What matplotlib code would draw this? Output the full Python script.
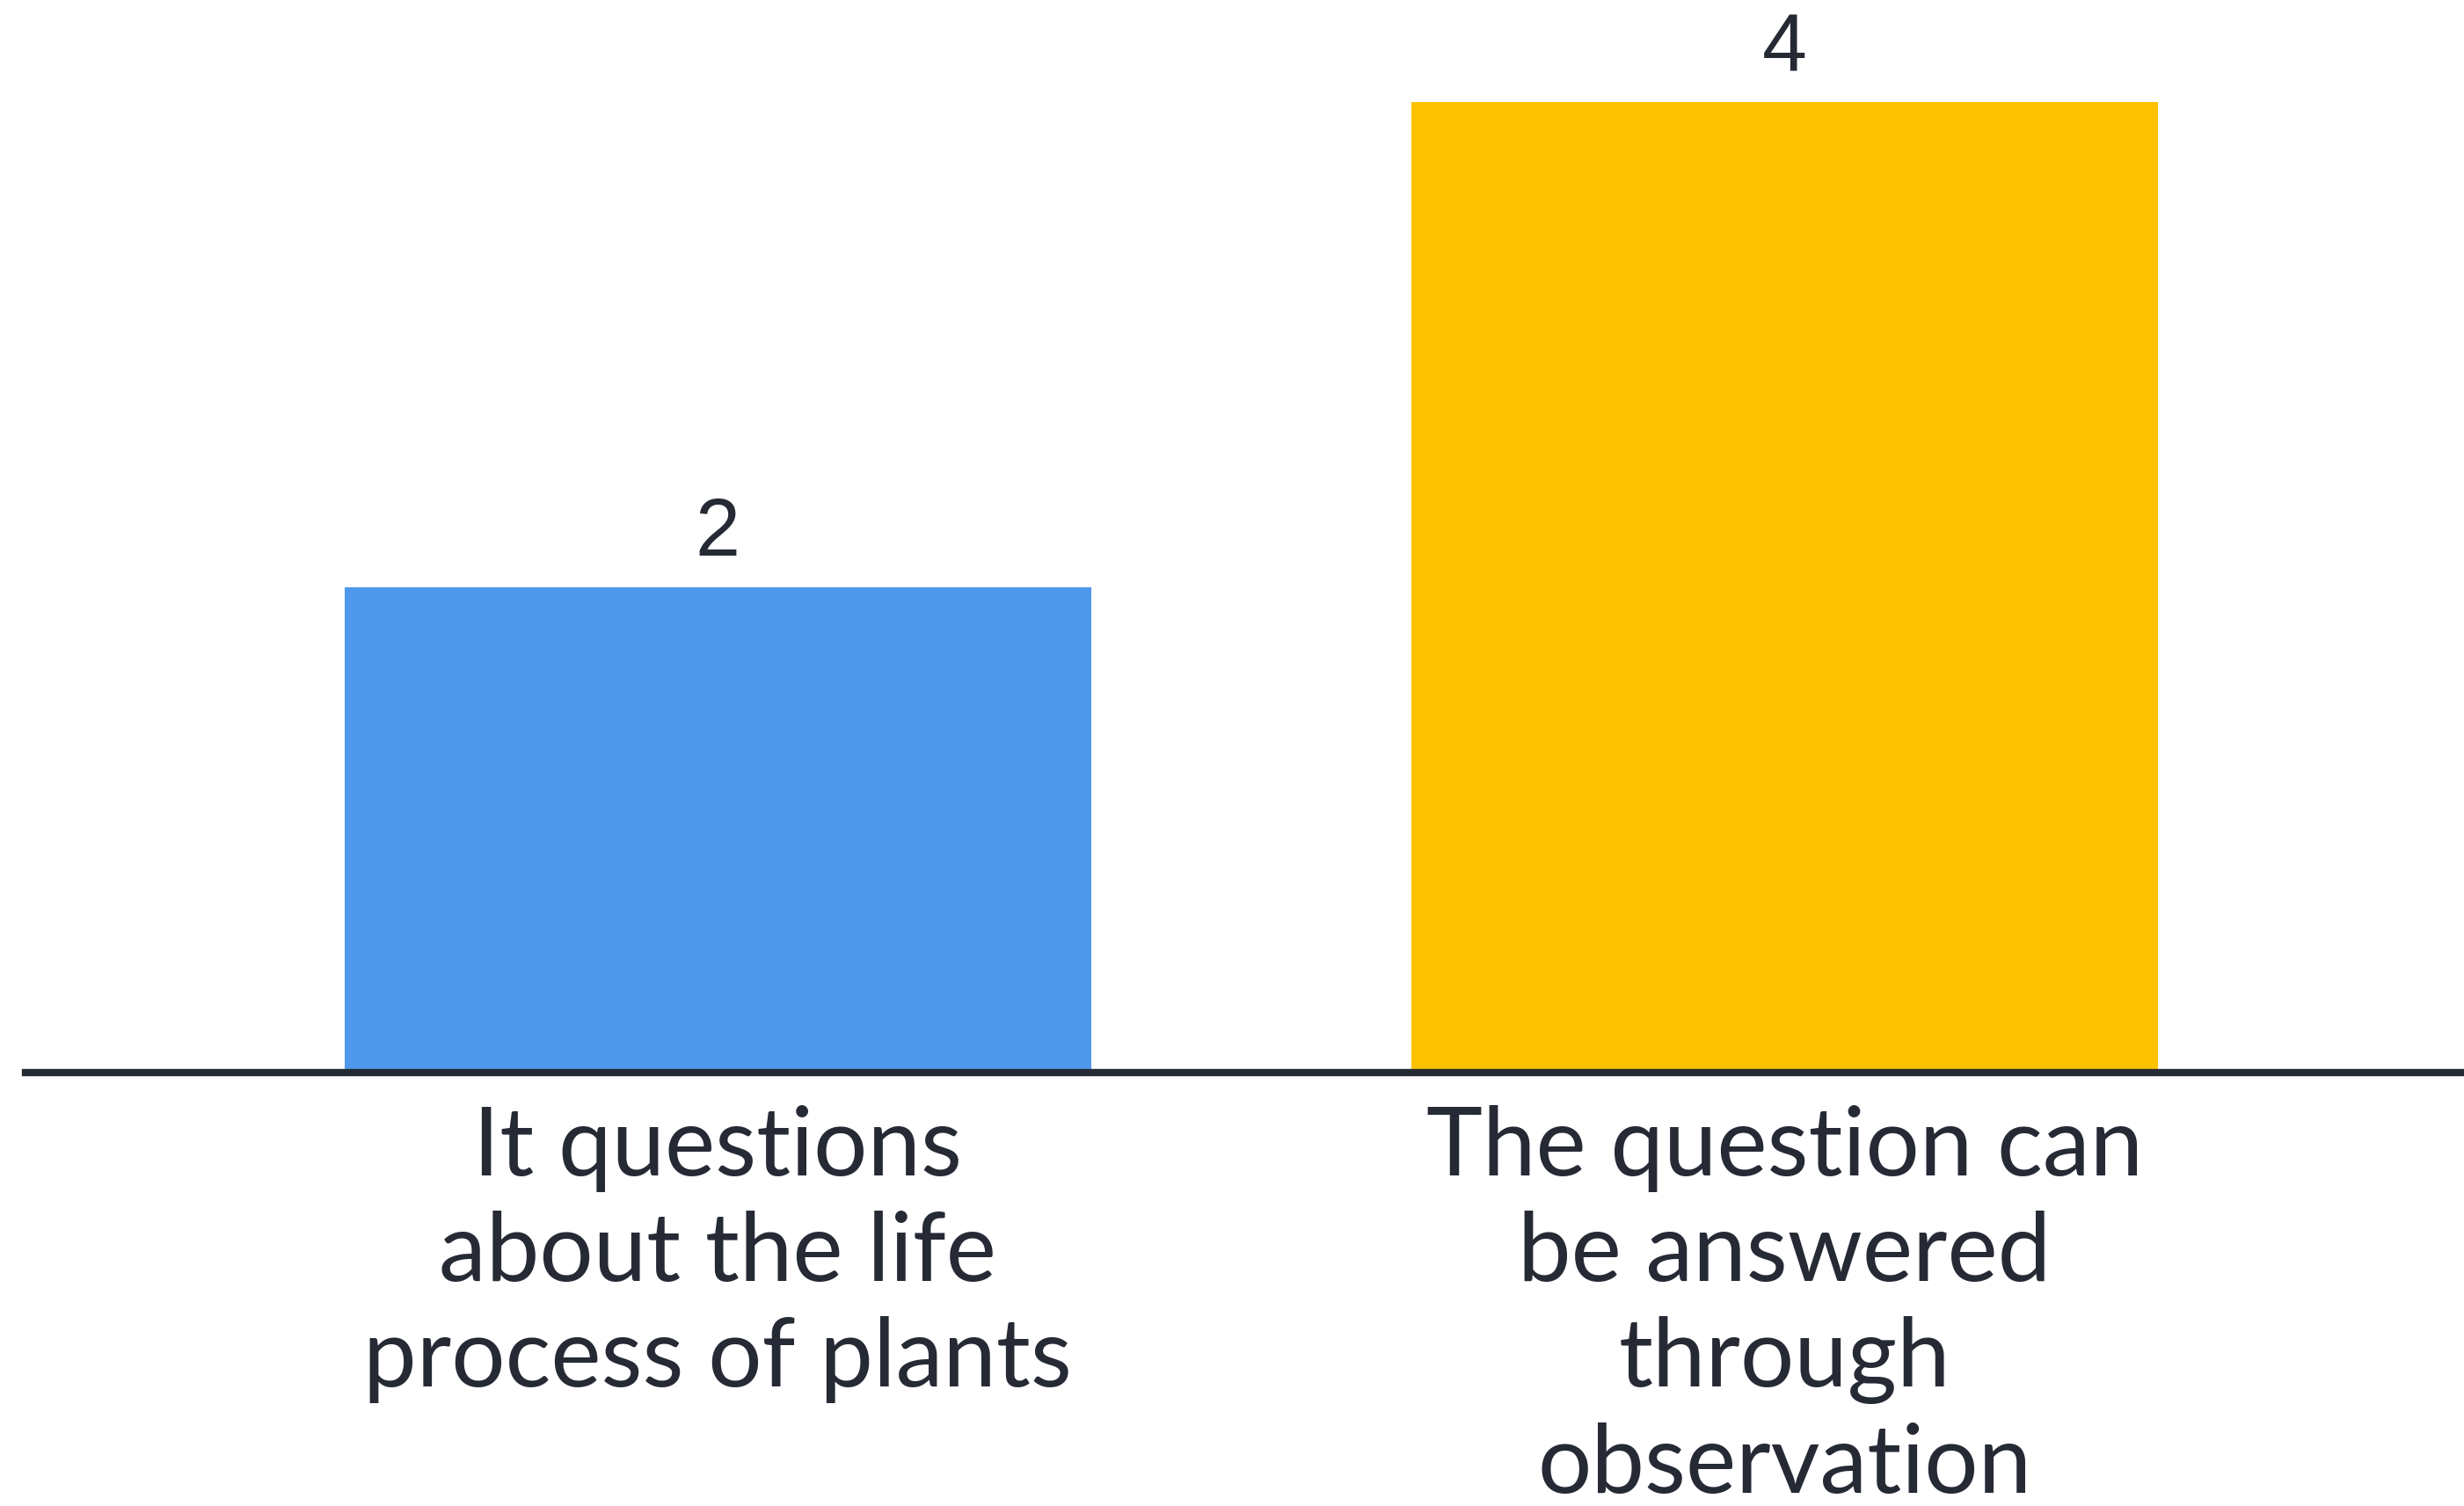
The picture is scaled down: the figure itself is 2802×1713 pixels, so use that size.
import matplotlib.pyplot as plt

# Chart data
categories = [
    "It questions\nabout the life\nprocess of plants",
    "The question can\nbe answered\nthrough\nobservation",
]
values = [2, 4]
colors = ["#4f98ec", "#fcc200"]

text_color = "#262a35"

fig = plt.figure(figsize=(28.02, 17.13), dpi=100)
ax = fig.add_axes([29 / 2802, 493 / 1713, 1 - 29 / 2802, 1220 / 1713])

x = list(range(len(values)))
bars = ax.bar(x, values, width=0.7, color=colors)

# Value labels above the bars
ax.bar_label(bars, labels=[str(v) for v in values], padding=12,
             fontsize=66, color=text_color, family="Liberation Sans")

ax.set_xlim(-0.649, 1.637)
ax.set_ylim(0, 4.42)

ax.set_xticks(x)
ax.set_xticklabels(categories, fontsize=78, color=text_color,
                   family="Lato", linespacing=1.26)
ax.tick_params(axis="x", length=0, pad=27)
ax.set_yticks([])

for side in ["top", "right", "left"]:
    ax.spines[side].set_visible(False)
ax.spines["bottom"].set_color(text_color)
ax.spines["bottom"].set_linewidth(6)

fig.savefig("out.png", dpi=100)
